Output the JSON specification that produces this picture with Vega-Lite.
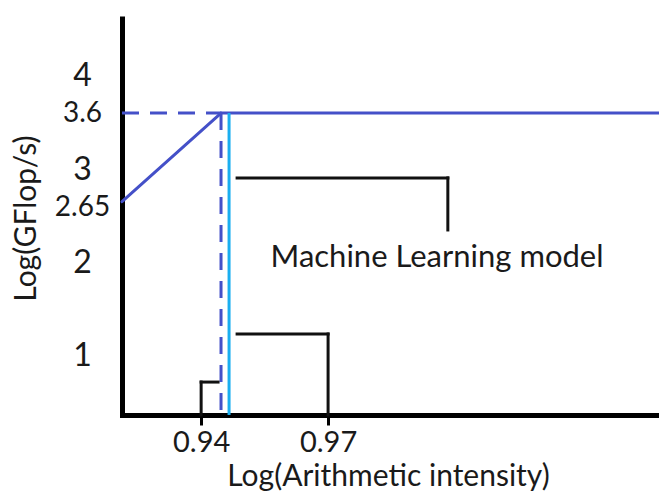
{
  "$schema": "https://vega.github.io/schema/vega-lite/v6.json",
  "autosize": {"type": "none"},
  "padding": {"left": 122, "top": 16, "right": 0, "bottom": 76},
  "width": 537,
  "height": 399,
  "config": {
    "view": {"stroke": null},
    "font": "Lato",
    "axis": {"grid": false, "labelFont": "Lato", "titleFont": "Lato", "labelColor": "#1a1a1a", "titleColor": "#1a1a1a", "titleFontWeight": "normal"}
  },
  "layer": [
    {
      "data": {"values": [
        {"x": 0.9213, "y": 2.65, "x2": 0.9447, "y2": 3.6},
        {"x": 0.9447, "y": 3.6, "x2": 1.0482, "y2": 3.6}
      ]},
      "mark": {"type": "rule", "color": "#4450c8", "strokeWidth": 3, "strokeCap": "round"},
      "encoding": {
        "x": {"field": "x", "type": "quantitative", "scale": {"domain": [0.9213, 1.0482], "nice": false, "zero": false},
          "axis": {"values": [0.94, 0.97], "labelExpr": "'' + datum.value", "domainColor": "black", "domainWidth": 5, "domainCap": "square",
            "tickColor": "black", "tickWidth": 3, "tickSize": 10, "labelPadding": 3, "labelDx": 5, "labelFontSize": 29,
            "title": "Log(Arithmetic intensity)", "titleFontSize": 30, "titleX": 266, "titleY": 70, "titleBaseline": "alphabetic", "titleAlign": "center"}},
        "y": {"field": "y", "type": "quantitative", "scale": {"domain": [0.364, 4.64], "nice": false, "zero": false},
          "axis": {"values": [1, 2, 2.65, 3, 3.6, 4], "labelExpr": "'' + datum.value", "domainColor": "black", "domainWidth": 5, "domainCap": "butt",
            "ticks": false, "labelPadding": 40, "labelAlign": "center", "labelBaseline": "middle",
            "labelFontSize": {"condition": {"test": "datum.value == round(datum.value)", "value": 32}, "value": 28},
            "labelOffset": {"condition": {"test": "datum.value == 2.65", "value": 6}, "value": 0},
            "title": "Log(GFlop/s)", "titleFontSize": 30, "titleX": -87, "titleY": 202, "titleBaseline": "alphabetic", "titleAlign": "center", "titleAngle": -90}},
        "x2": {"field": "x2"},
        "y2": {"field": "y2"}
      }
    },
    {
      "data": {"values": [
        {"x": 0.9213, "y": 3.6, "x2": 0.9447, "y2": 3.6},
        {"x": 0.9447, "y": 3.6, "x2": 0.9447, "y2": 0.37}
      ]},
      "mark": {"type": "rule", "color": "#4450c8", "strokeWidth": 3, "strokeDash": [17, 11]},
      "encoding": {
        "x": {"field": "x", "type": "quantitative"},
        "y": {"field": "y", "type": "quantitative"},
        "x2": {"field": "x2"},
        "y2": {"field": "y2"}
      }
    },
    {
      "data": {"values": [
        {"x": 0.9466, "y": 3.6, "x2": 0.9466, "y2": 0.364}
      ]},
      "mark": {"type": "rule", "color": "#1aaef0", "strokeWidth": 3},
      "encoding": {
        "x": {"field": "x", "type": "quantitative"},
        "y": {"field": "y", "type": "quantitative"},
        "x2": {"field": "x2"},
        "y2": {"field": "y2"}
      }
    },
    {
      "data": {"values": [
        {"x": 0.94, "y": 0.364, "x2": 0.94, "y2": 0.717},
        {"x": 0.94, "y": 0.717, "x2": 0.944, "y2": 0.717},
        {"x": 0.9485, "y": 1.232, "x2": 0.97, "y2": 1.232},
        {"x": 0.97, "y": 1.232, "x2": 0.97, "y2": 0.364},
        {"x": 0.9485, "y": 2.905, "x2": 0.9983, "y2": 2.905},
        {"x": 0.9983, "y": 2.905, "x2": 0.9983, "y2": 2.347}
      ]},
      "mark": {"type": "rule", "color": "#111", "strokeWidth": 3, "strokeCap": "square"},
      "encoding": {
        "x": {"field": "x", "type": "quantitative"},
        "y": {"field": "y", "type": "quantitative"},
        "x2": {"field": "x2"},
        "y2": {"field": "y2"}
      }
    },
    {
      "data": {"values": [
        {"x": 0.99575, "y": 1.951, "label": "Machine Learning model"}
      ]},
      "mark": {"type": "text", "font": "Lato", "fontSize": 31, "color": "#1a1a1a", "align": "center", "baseline": "alphabetic"},
      "encoding": {
        "x": {"field": "x", "type": "quantitative"},
        "y": {"field": "y", "type": "quantitative"},
        "text": {"field": "label"}
      }
    }
  ]
}
